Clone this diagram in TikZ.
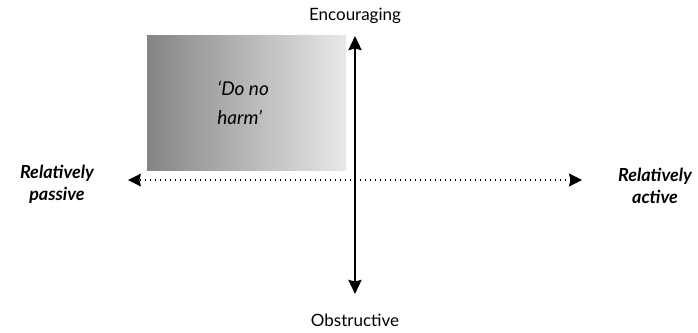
\documentclass[tikz,border=0pt]{standalone}
\usepackage{fontspec}
\setmainfont{Lato}
\usetikzlibrary{arrows.meta}

\begin{document}
\begin{tikzpicture}[x=1pt, y=-1pt, thick,
    pole/.style = {font=\fontsize{17}{17}\selectfont, inner sep=0pt},
    side/.style = {font=\fontsize{18}{22}\selectfont\bfseries\itshape, align=center, inner sep=0pt},
    vaxis/.style = {line width=2.6pt, {Stealth[length=14pt, width=13pt, inset=1.5pt]}-{Stealth[length=14pt, width=13pt, inset=1.5pt]}},
    haxis/.style = {line width=1.8pt, dash pattern=on 1.8pt off 3.2pt, {Stealth[length=13pt, width=13pt, inset=1.5pt, line width=0pt, fill=black]}-{Stealth[length=13pt, width=13pt, inset=1.5pt]}}]

        \useasboundingbox (0,0) rectangle (698,332);

        \shade[left color=black!48, right color=black!9] (147,35) rectangle (346,170);
        \node[font=\fontsize{19}{29}\selectfont\itshape, align=left, anchor=base west, inner sep=0pt] (harm) at (217,124) {`Do no\\harm'};

        \node[pole, anchor=base] (enc) at (355,20) {Encouraging};
        \node[pole, anchor=base] (obs) at (355,326) {Obstructive};
        \node[side] (pas) at (57,184) {Relatively\\passive};
        \node[side] (act) at (655,186) {Relatively\\active};

        \coordinate (top) at (355,36);
        \coordinate (bot) at (355,294);
        \coordinate (lft) at (128,180);
        \coordinate (rgt) at (582,180);

        \draw[vaxis] (bot) -- (top);
        \draw[haxis] (lft) -- (rgt);

\end{tikzpicture}
\end{document}
